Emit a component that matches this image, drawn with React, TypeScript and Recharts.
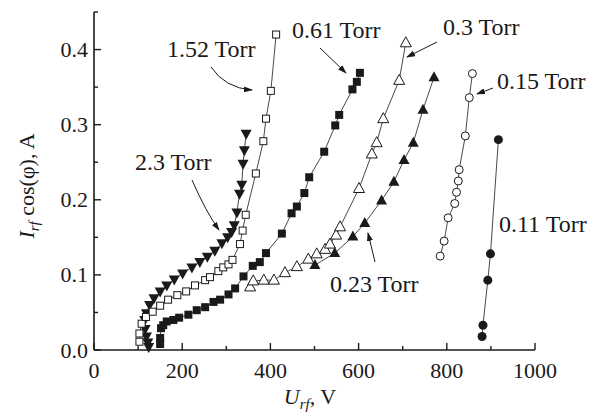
import { ScatterChart, Scatter, XAxis, YAxis } from 'recharts'

// U_rf (V) vs I_rf cos(phi) (A), one array per pressure
const torr011 = [
  { x: 880, y: 0.018 }, { x: 882, y: 0.033 }, { x: 893, y: 0.093 }, { x: 899, y: 0.128 }, { x: 917, y: 0.28 },
]

const torr015 = [
  { x: 785, y: 0.125 }, { x: 794, y: 0.145 }, { x: 803, y: 0.176 }, { x: 818, y: 0.195 }, { x: 822, y: 0.21 },
  { x: 826, y: 0.225 }, { x: 828, y: 0.24 }, { x: 842, y: 0.285 }, { x: 851, y: 0.336 }, { x: 858, y: 0.368 },
]

const torr023 = [
  { x: 501, y: 0.113 }, { x: 546, y: 0.129 }, { x: 587, y: 0.151 }, { x: 614, y: 0.169 }, { x: 652, y: 0.199 },
  { x: 680, y: 0.224 }, { x: 703, y: 0.253 }, { x: 724, y: 0.276 }, { x: 746, y: 0.32 }, { x: 771, y: 0.363 },
]

const torr03 = [
  { x: 354, y: 0.084 }, { x: 361, y: 0.092 }, { x: 385, y: 0.093 }, { x: 408, y: 0.093 }, { x: 433, y: 0.103 },
  { x: 460, y: 0.111 }, { x: 486, y: 0.121 }, { x: 505, y: 0.128 }, { x: 524, y: 0.134 }, { x: 535, y: 0.141 },
  { x: 549, y: 0.153 }, { x: 558, y: 0.164 }, { x: 601, y: 0.215 }, { x: 630, y: 0.261 }, { x: 641, y: 0.276 },
  { x: 656, y: 0.308 }, { x: 692, y: 0.359 }, { x: 707, y: 0.409 },
]

const torr061 = [
  { x: 150, y: 0.008 }, { x: 150, y: 0.016 }, { x: 152, y: 0.029 }, { x: 157, y: 0.033 }, { x: 165, y: 0.038 },
  { x: 180, y: 0.04 }, { x: 193, y: 0.043 }, { x: 214, y: 0.047 }, { x: 233, y: 0.053 }, { x: 252, y: 0.057 },
  { x: 271, y: 0.064 }, { x: 286, y: 0.067 }, { x: 305, y: 0.074 }, { x: 320, y: 0.082 }, { x: 339, y: 0.098 },
  { x: 360, y: 0.112 }, { x: 376, y: 0.117 }, { x: 390, y: 0.129 }, { x: 426, y: 0.155 }, { x: 448, y: 0.182 },
  { x: 460, y: 0.191 }, { x: 477, y: 0.209 }, { x: 488, y: 0.23 }, { x: 522, y: 0.264 }, { x: 547, y: 0.299 },
  { x: 556, y: 0.313 }, { x: 586, y: 0.347 }, { x: 596, y: 0.357 }, { x: 603, y: 0.369 },
]

const torr152 = [
  { x: 103, y: 0.011 }, { x: 103, y: 0.022 }, { x: 108, y: 0.035 }, { x: 118, y: 0.044 }, { x: 133, y: 0.051 },
  { x: 150, y: 0.059 }, { x: 168, y: 0.067 }, { x: 189, y: 0.073 }, { x: 209, y: 0.078 }, { x: 229, y: 0.086 },
  { x: 252, y: 0.093 }, { x: 263, y: 0.097 }, { x: 282, y: 0.105 }, { x: 293, y: 0.11 }, { x: 305, y: 0.114 },
  { x: 314, y: 0.12 }, { x: 331, y: 0.141 }, { x: 337, y: 0.159 }, { x: 344, y: 0.18 }, { x: 367, y: 0.235 },
  { x: 384, y: 0.278 }, { x: 390, y: 0.308 }, { x: 401, y: 0.345 }, { x: 413, y: 0.42 },
]

const torr23 = [
  { x: 124, y: 0.004 }, { x: 122, y: 0.01 }, { x: 119, y: 0.018 }, { x: 116, y: 0.028 }, { x: 115, y: 0.04 },
  { x: 119, y: 0.049 }, { x: 126, y: 0.06 }, { x: 136, y: 0.069 }, { x: 150, y: 0.078 }, { x: 165, y: 0.086 },
  { x: 182, y: 0.094 }, { x: 201, y: 0.102 }, { x: 222, y: 0.11 }, { x: 240, y: 0.117 }, { x: 257, y: 0.124 },
  { x: 274, y: 0.132 }, { x: 290, y: 0.142 }, { x: 303, y: 0.15 }, { x: 312, y: 0.157 }, { x: 318, y: 0.166 },
  { x: 324, y: 0.183 }, { x: 330, y: 0.208 }, { x: 335, y: 0.22 }, { x: 338, y: 0.248 }, { x: 341, y: 0.266 },
  { x: 345, y: 0.288 },
]

const xTicks = [0, 100, 200, 300, 400, 500, 600, 700, 800, 900, 1000]
const yTicks = [0, 0.05, 0.1, 0.15, 0.2, 0.25, 0.3, 0.35, 0.4, 0.45]

const FONT = '"Liberation Serif", "Times New Roman", serif'
const ink = '#1a1a1a'

const XTick = ({ x, y, payload }: any) => {
  const v = payload.value
  const major = v % 200 === 0
  return (
    <g>
      <line x1={x} x2={x} y1={y} y2={y - (major ? 7 : 4)} stroke={ink} strokeWidth={1.4} />
      {major && (
        <text x={x} y={y + 20} textAnchor="middle" dominantBaseline="central" fontFamily={FONT} fontSize={22} fill={ink}>
          {v}
        </text>
      )}
    </g>
  )
}

const YTick = ({ x, y, payload }: any) => {
  const v = payload.value
  const major = Math.round(v * 100) % 10 === 0
  return (
    <g>
      <line x1={x} x2={x + (major ? 7 : 4)} y1={y} y2={y} stroke={ink} strokeWidth={1.4} />
      {major && (
        <text x={x - 6} y={y} textAnchor="end" dominantBaseline="central" fontFamily={FONT} fontSize={22} fill={ink}>
          {v.toFixed(1)}
        </text>
      )}
    </g>
  )
}

const openSquare = ({ cx, cy }: any) => <rect x={cx - 3.5} y={cy - 3.5} width={7} height={7} fill="#fff" stroke={ink} strokeWidth={1} />
const filledSquare = ({ cx, cy }: any) => <rect x={cx - 4} y={cy - 4} width={8} height={8} fill={ink} />
const openTriUp = ({ cx, cy }: any) => (
  <polygon points={`${cx},${cy - 6} ${cx + 5.5},${cy + 4} ${cx - 5.5},${cy + 4}`} fill="#fff" stroke={ink} strokeWidth={1} />
)
const filledTriUp = ({ cx, cy }: any) => (
  <polygon points={`${cx},${cy - 6} ${cx + 5.5},${cy + 4} ${cx - 5.5},${cy + 4}`} fill={ink} />
)
const filledTriDown = ({ cx, cy }: any) => (
  <polygon points={`${cx},${cy + 6} ${cx + 5.5},${cy - 4} ${cx - 5.5},${cy - 4}`} fill={ink} />
)
const openCircle = ({ cx, cy }: any) => <circle cx={cx} cy={cy} r={4} fill="#fff" stroke={ink} strokeWidth={1} />
const filledCircle = ({ cx, cy }: any) => <circle cx={cx} cy={cy} r={4.5} fill={ink} />

const lineStyle = { stroke: ink, strokeWidth: 0.8 }

function Annotations() {
  const t = { fontFamily: FONT, fontSize: 24, fill: ink }
  const a = { stroke: ink, strokeWidth: 1, fill: 'none', markerEnd: 'url(#arrowHead)' }
  return (
    <svg width={594} height={413} style={{ position: 'absolute', left: 0, top: 0, pointerEvents: 'none' }}>
      <defs>
        <marker id="arrowHead" markerWidth={9} markerHeight={6} refX={8} refY={3} orient="auto" markerUnits="userSpaceOnUse">
          <path d="M0,0 L9,3 L0,6 z" fill={ink} />
        </marker>
      </defs>
      <text x={167} y={57} {...t}>1.52 Torr</text>
      <path d="M211,67 Q225,88 252,90" {...a} />
      <text x={292} y={38} {...t}>0.61 Torr</text>
      <path d="M320,48 L346,73" {...a} />
      <text x={443} y={35} {...t}>0.3 Torr</text>
      <path d="M437,42 L407,57" {...a} />
      <text x={497} y={89} {...t}>0.15 Torr</text>
      <path d="M493,88 L477,94" {...a} />
      <text x={135} y={170} {...t}>2.3 Torr</text>
      <path d="M192,180 Q206,212 219,230" {...a} />
      <text x={330} y={292} {...t}>0.23 Torr</text>
      <path d="M375,262 L368,233" {...a} />
      <text x={499} y={232} {...t}>0.11 Torr</text>

      <text x={310} y={404} textAnchor="middle" fontFamily={FONT} fontSize={22} fill={ink}>
        <tspan fontStyle="italic">U</tspan>
        <tspan fontStyle="italic" fontSize={15} dy={5}>rf</tspan>
        <tspan dy={-5}>, V</tspan>
      </text>
      <text transform="translate(34,186) rotate(-90)" textAnchor="middle" fontFamily={FONT} fontSize={22} fill={ink}>
        <tspan fontStyle="italic">I</tspan>
        <tspan fontStyle="italic" fontSize={15} dy={5}>rf</tspan>
        <tspan dy={-5}> cos(φ), A</tspan>
      </text>
    </svg>
  )
}

export default function App() {
  return (
    <div style={{ position: 'absolute', left: 0, top: 0, width: 594, height: 413, background: '#fff' }}>
      <ScatterChart width={594} height={413} margin={{ top: 12, right: 59, bottom: 0, left: 0 }}>
        <XAxis
          type="number"
          dataKey="x"
          domain={[0, 1000]}
          ticks={xTicks}
          interval={0}
          tickSize={0}
          tickMargin={0}
          height={63}
          axisLine={{ stroke: ink, strokeWidth: 1.6 }}
          tickLine={false}
          tick={<XTick />}
        />
        <YAxis
          type="number"
          dataKey="y"
          domain={[0, 0.45]}
          ticks={yTicks}
          interval={0}
          tickSize={0}
          tickMargin={0}
          width={94}
          axisLine={{ stroke: ink, strokeWidth: 1.6 }}
          tickLine={false}
          tick={<YTick />}
        />
        <Scatter data={torr23} shape={filledTriDown} line={lineStyle} isAnimationActive={false} />
        <Scatter data={torr152} shape={openSquare} line={lineStyle} isAnimationActive={false} />
        <Scatter data={torr061} shape={filledSquare} line={lineStyle} isAnimationActive={false} />
        <Scatter data={torr03} shape={openTriUp} line={lineStyle} isAnimationActive={false} />
        <Scatter data={torr023} shape={filledTriUp} line={lineStyle} isAnimationActive={false} />
        <Scatter data={torr015} shape={openCircle} line={lineStyle} isAnimationActive={false} />
        <Scatter data={torr011} shape={filledCircle} line={lineStyle} isAnimationActive={false} />
      </ScatterChart>
      <Annotations />
    </div>
  )
}
